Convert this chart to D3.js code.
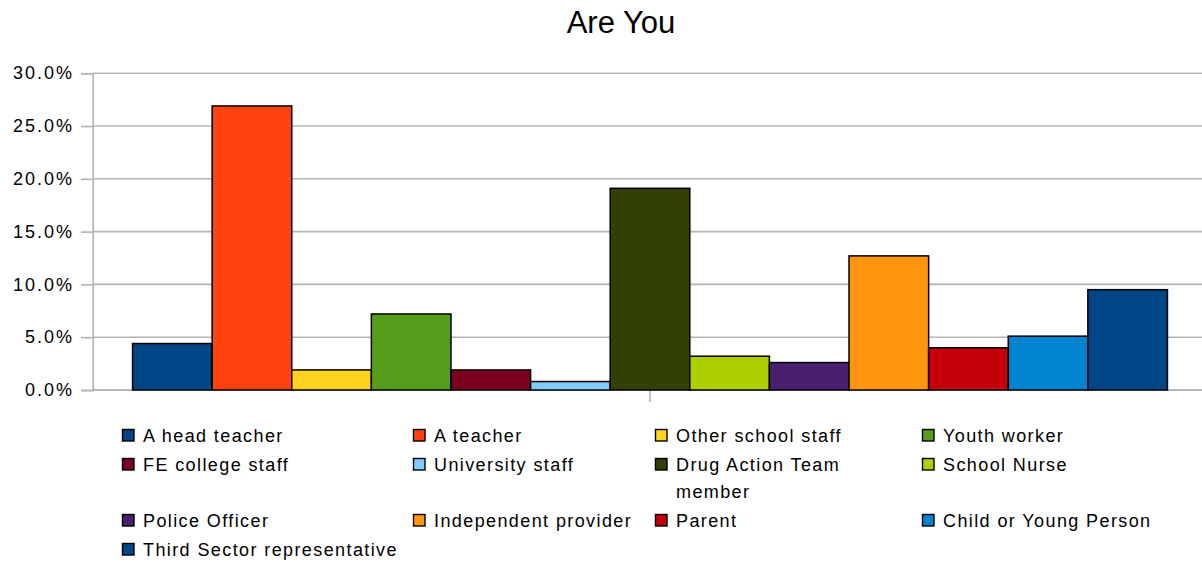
<!DOCTYPE html>
<html>
<head>
<meta charset="utf-8">
<script src="https://cdn.jsdelivr.net/npm/d3@7"></script>
<style>
  html, body { margin: 0; padding: 0; background: #fff; }
  svg { display: block; font-family: "Liberation Sans", Arial, sans-serif; }
</style>
</head>
<body>
<svg id="chart" width="1202" height="565"></svg>
<script>
// Survey question and respondent groups
const title = "Are You";
const category = "Are You";
const groups = [
  "A head teacher", "A teacher", "Other school staff", "Youth worker",
  "FE college staff", "University staff", "Drug Action Team member", "School Nurse",
  "Police Officer", "Independent provider", "Parent", "Child or Young Person",
  "Third Sector representative"
];
// Share of respondents per group
const shares = [0.044, 0.269, 0.019, 0.072, 0.019, 0.008, 0.191, 0.032, 0.026, 0.127, 0.040, 0.051, 0.095];
const colors = [
  "#004586", "#ff420e", "#ffd320", "#579d1c", "#7e0021", "#83caff", "#314004",
  "#aecf00", "#4b1f6f", "#ff950e", "#c5000b", "#0084d1", "#004586"
];
const yTicks = [0, 0.05, 0.10, 0.15, 0.20, 0.25, 0.30];
// Legend lines: long labels wrap onto a second line
const legendLines = [
  ["A head teacher"], ["A teacher"], ["Other school staff"], ["Youth worker"],
  ["FE college staff"], ["University staff"], ["Drug Action Team", "member"], ["School Nurse"],
  ["Police Officer"], ["Independent provider"], ["Parent"], ["Child or Young Person"],
  ["Third Sector representative"]
];

const svg = d3.select("#chart");
const plot = { left: 92.7, right: 1207.3, top: 73.2, bottom: 390 };
const gridColor = "#b3b3b3";

const y = d3.scaleLinear().domain([0, 0.30]).range([plot.bottom, plot.top]);
const xOuter = d3.scaleBand().domain([category])
  .range([plot.left, plot.right]).paddingInner(0).paddingOuter(0.0385);
const xInner = d3.scaleBand().domain(groups)
  .range([0, xOuter.bandwidth()]).padding(0);

// Title
svg.append("text")
  .attr("x", 621).attr("y", 33)
  .attr("text-anchor", "middle")
  .attr("font-size", 31)
  .attr("fill", "#000")
  .text(title);

// Horizontal gridlines
svg.append("g")
  .selectAll("line")
  .data(yTicks)
  .join("line")
  .attr("x1", plot.left).attr("x2", 1202)
  .attr("y1", d => y(d)).attr("y2", d => y(d))
  .attr("stroke", gridColor).attr("stroke-width", 1.6);

// Y axis
const yAxis = svg.append("g")
  .attr("transform", `translate(${plot.left},0)`)
  .call(d3.axisLeft(y).tickValues(yTicks).tickFormat(d3.format(".1%")).tickSize(11.7).tickPadding(7));
yAxis.select(".domain").attr("stroke", gridColor).attr("stroke-width", 1.6);
yAxis.selectAll(".tick line").attr("stroke", gridColor).attr("stroke-width", 1.6);
yAxis.selectAll(".tick text")
  .attr("font-size", 18).attr("fill", "#000")
  .attr("font-family", "Liberation Sans, Arial, sans-serif")
  .style("letter-spacing", "2px");

// Category axis with a single centred tick
const xAxis = svg.append("g")
  .attr("transform", `translate(0,${plot.bottom})`)
  .call(d3.axisBottom(xOuter).tickSize(12).tickFormat(""));
xAxis.select(".domain").attr("d", `M${plot.left},0H1202`)
  .attr("stroke", gridColor).attr("stroke-width", 1.6);
xAxis.selectAll(".tick line").attr("stroke", gridColor).attr("stroke-width", 1.6);

// Bars
svg.append("g")
  .attr("transform", `translate(${xOuter(category)},0)`)
  .selectAll("rect")
  .data(groups.map((g, i) => ({ g, v: shares[i], c: colors[i] })))
  .join("rect")
  .attr("x", d => xInner(d.g))
  .attr("width", xInner.bandwidth())
  .attr("y", d => y(d.v))
  .attr("height", d => y(0) - y(d.v))
  .attr("fill", d => d.c)
  .attr("stroke", "#000")
  .attr("stroke-width", 1.5);

// Legend: four columns, rows grow when a label wraps
const colX = [122, 413, 655, 922];
const lineH = 27, rowGap = 29;
let rowY = 436;
const legend = svg.append("g");
for (let r = 0; r * 4 < groups.length; r++) {
  let maxLines = 1;
  for (let c = 0; c < 4; c++) {
    const i = r * 4 + c;
    if (i >= groups.length) break;
    const item = legend.append("g").attr("transform", `translate(${colX[c]},${rowY})`);
    item.append("rect")
      .attr("x", 0.5).attr("y", -6.5).attr("width", 11.5).attr("height", 11.5)
      .attr("fill", colors[i]).attr("stroke", "#000").attr("stroke-width", 1.4);
    const t = item.append("text")
      .attr("x", 21).attr("y", 0)
      .attr("font-size", 18).attr("fill", "#000")
      .style("letter-spacing", "1.4px");
    legendLines[i].forEach((ln, k) => {
      t.append("tspan").attr("x", 21).attr("y", k * lineH).attr("dy", "0.35em").text(ln);
    });
    maxLines = Math.max(maxLines, legendLines[i].length);
  }
  rowY += (maxLines - 1) * lineH + rowGap;
}
</script>
</body>
</html>
